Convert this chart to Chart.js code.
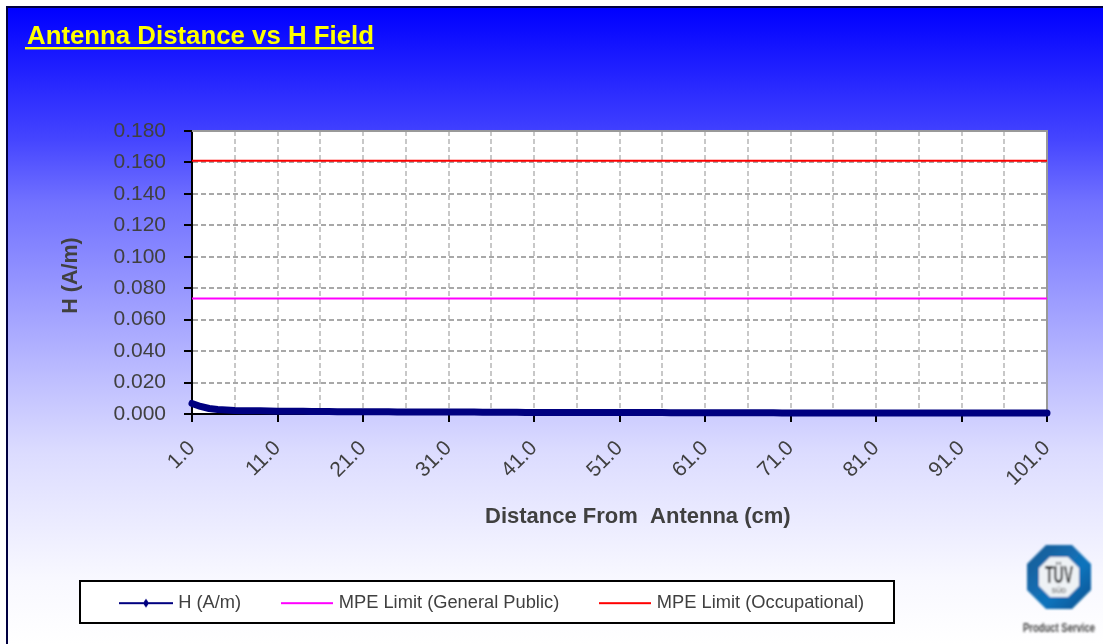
<!DOCTYPE html>
<html><head><meta charset="utf-8">
<script src="https://cdn.jsdelivr.net/npm/chart.js@4"></script>
<style>
html,body{margin:0;padding:0;background:#fff;}
#page{position:relative;width:1103px;height:644px;overflow:hidden;background:#fff;}
#bg{position:absolute;left:6px;top:6px;right:0;bottom:0;border-left:2px solid #000040;border-top:2px solid #000040;
background:linear-gradient(180deg,#0000ff 0px,#4444ff 130px,#7272ff 195px,#c0c0ff 375px,#dcdcff 445px,#f8f8ff 570px,#ffffff 636px);}
canvas#c{position:absolute;left:0;top:0;}
#logo{position:absolute;left:1015px;top:540px;}
</style></head><body>
<div id="page"><div id="bg"></div><canvas id="c" width="1103" height="644"></canvas>
<svg id="logo" width="88" height="104" viewBox="0 0 88 104">
<defs><filter id="b"><feGaussianBlur stdDeviation="0.8"/></filter>
<filter id="b2"><feGaussianBlur stdDeviation="1"/></filter>
<linearGradient id="g" x1="0" y1="0" x2="1" y2="1"><stop offset="0" stop-color="#1d5a92"/><stop offset="0.6" stop-color="#0f74bd"/><stop offset="1" stop-color="#0a4f8c"/></linearGradient></defs>
<g filter="url(#b)">
<polygon points="31,5 57,5 76,24 76,50 57,69 31,69 12,50 12,24" fill="url(#g)"/>
<polygon points="35,17 53,17 64,28 64,46 53,57 35,57 24,46 24,28" fill="#eef2f5"/>
<text x="44" y="43" font-family="Liberation Sans" font-weight="bold" font-size="23" text-anchor="middle" fill="#111" textLength="28" lengthAdjust="spacingAndGlyphs">TÜV</text>
<text x="44" y="53" font-family="Liberation Sans" font-weight="bold" font-size="7" text-anchor="middle" fill="#777">SÜD</text>
</g>
<text x="44" y="92" filter="url(#b2)" font-family="Liberation Sans" font-weight="bold" font-size="12.5" text-anchor="middle" fill="#444" textLength="72" lengthAdjust="spacingAndGlyphs">Product Service</text>
</svg>
</div>
<script>
const categories = ["1.0","2.0","3.0","4.0","5.0","6.0","7.0","8.0","9.0","10.0","11.0","12.0","13.0","14.0","15.0","16.0","17.0","18.0","19.0","20.0","21.0","22.0","23.0","24.0","25.0","26.0","27.0","28.0","29.0","30.0","31.0","32.0","33.0","34.0","35.0","36.0","37.0","38.0","39.0","40.0","41.0","42.0","43.0","44.0","45.0","46.0","47.0","48.0","49.0","50.0","51.0","52.0","53.0","54.0","55.0","56.0","57.0","58.0","59.0","60.0","61.0","62.0","63.0","64.0","65.0","66.0","67.0","68.0","69.0","70.0","71.0","72.0","73.0","74.0","75.0","76.0","77.0","78.0","79.0","80.0","81.0","82.0","83.0","84.0","85.0","86.0","87.0","88.0","89.0","90.0","91.0","92.0","93.0","94.0","95.0","96.0","97.0","98.0","99.0","100.0","101.0"];
const hField = [0.0067,0.0048,0.0035,0.0029,0.0025,0.0022,0.0021,0.0020,0.0020,0.0019,0.0018,0.0018,0.0017,0.0017,0.0016,0.0016,0.0016,0.0015,0.0015,0.0015,0.0014,0.0014,0.0014,0.0014,0.0013,0.0013,0.0013,0.0013,0.0013,0.0012,0.0012,0.0012,0.0012,0.0012,0.0011,0.0011,0.0011,0.0011,0.0011,0.0010,0.0010,0.0010,0.0010,0.0010,0.0010,0.0010,0.0010,0.0009,0.0009,0.0009,0.0009,0.0009,0.0009,0.0009,0.0009,0.0009,0.0008,0.0008,0.0008,0.0008,0.0008,0.0008,0.0008,0.0008,0.0008,0.0008,0.0008,0.0008,0.0008,0.0007,0.0007,0.0007,0.0007,0.0007,0.0007,0.0007,0.0007,0.0007,0.0007,0.0007,0.0007,0.0007,0.0006,0.0006,0.0006,0.0006,0.0006,0.0006,0.0006,0.0006,0.0006,0.0006,0.0006,0.0006,0.0006,0.0006,0.0006,0.0006,0.0006,0.0006,0.0006];
const mpePublic = categories.map(() => 0.0735);
const mpeOccupational = categories.map(() => 0.161);
const seriesNames = ["H (A/m)","MPE Limit (General Public)","MPE Limit (Occupational)"];
const FONT = "'Liberation Sans', Arial, sans-serif";

function swatch(w, color, marker){
  const cv=document.createElement('canvas'); cv.width=w; cv.height=12;
  const x=cv.getContext('2d'); x.strokeStyle=color; x.lineWidth=2;
  x.beginPath(); x.moveTo(0,6); x.lineTo(w,6); x.stroke();
  if(marker){x.fillStyle=color;x.beginPath();x.moveTo(w/2,1.5);x.lineTo(w/2+3,6);x.lineTo(w/2,10.5);x.lineTo(w/2-3,6);x.closePath();x.fill();}
  return cv;
}
const swatches=[swatch(54,'#000080',true),swatch(52,'#ff00ff',false),swatch(52,'#ff0000',false)];

const frame={id:'frame',
  afterLayout(ch){
    const l=ch.legend; l.left=80.5; l.right=1000; l.width=919.5; l.top=551.5; l.bottom=623; l.height=71.5;
  },
  beforeDraw(ch){
    const {ctx,chartArea:a}=ch;
    ctx.save();
    ctx.fillStyle='#fff'; ctx.fillRect(a.left,a.top,a.right-a.left,a.bottom-a.top);
    ctx.strokeStyle='#000'; ctx.lineWidth=2; ctx.fillRect(80,581,814,42); ctx.strokeRect(80,581,814,42);
    ctx.restore();
  },
  afterDraw(ch){
    // underline of the title
    const {ctx}=ch; const t=ch.titleBlock;
    ctx.save(); ctx.font="bold 25.8px "+FONT;
    const w=ctx.measureText(ch.options.plugins.title.text).width;
    ctx.fillStyle='#ffff00'; ctx.fillRect(t.left-2,47,w+2,2.4); ctx.restore();
  },
  beforeDatasetsDraw(ch){
    const {ctx,chartArea:a}=ch;
    ctx.save(); ctx.strokeStyle='#999'; ctx.lineWidth=2;
    ctx.beginPath(); ctx.moveTo(a.left,a.top); ctx.lineTo(a.right,a.top); ctx.lineTo(a.right,a.bottom); ctx.stroke(); ctx.restore();
  }
};

new Chart(document.getElementById('c'),{
  type:'line',
  data:{labels:categories,datasets:[
    {label:seriesNames[0],data:hField,borderColor:'#000080',backgroundColor:'#000080',borderWidth:7,borderCapStyle:'round',borderJoinStyle:'round',pointStyle:'rectRot',pointRadius:0,tension:0,clip:false,order:0},
    {label:seriesNames[1],data:mpePublic,borderColor:'#ff00ff',borderWidth:2,pointRadius:0,tension:0,order:1},
    {label:seriesNames[2],data:mpeOccupational,borderColor:'#ff0000',borderWidth:2,pointRadius:0,tension:0,order:1}
  ]},
  plugins:[frame],
  options:{
    responsive:false,animation:false,
    layout:{padding:{left:27,right:56,top:0,bottom:0}},
    plugins:{
      title:{display:true,text:'Antenna Distance vs H Field',align:'start',color:'#ffff00',
        font:{family:FONT,size:25.8,weight:'bold',lineHeight:1.2},padding:{top:21,bottom:79.04}},
      legend:{display:true,position:'bottom',align:'start',
        labels:{color:'#404040',font:{family:FONT,size:18.3},usePointStyle:true,pointStyleWidth:46,padding:42.5,
          generateLabels(ch){
            return Chart.defaults.plugins.legend.labels.generateLabels(ch).map((it,i)=>Object.assign(it,{pointStyle:swatches[i]}));
          }}},
      tooltip:{enabled:false}
    },
    scales:{
      x:{type:'category',offset:false,
        afterFit(s){s.height=230-(s.chart.legend&&s.chart.legend.height||0);},
        border:{display:true,color:'#000',width:2,dash:[5,3]},
        grid:{lineWidth:2,drawTicks:true,tickLength:8,tickBorderDash:[],
          color:c=>c.index%5===0?'#c8c8c8':'rgba(0,0,0,0)',
          tickColor:c=>c.index%10===0?'#000':'rgba(0,0,0,0)',tickWidth:2},
        ticks:{autoSkip:false,minRotation:45,maxRotation:45,color:'#404040',padding:14,font:{family:FONT,size:21},
          callback(v,i){return i%10===0?categories[i]:'';}},
        title:{display:true,text:'      Distance From  Antenna (cm)',color:'#404040',font:{family:FONT,size:22,weight:'bold'},padding:{top:43,bottom:43}}
      },
      y:{min:0,max:0.18,
        afterFit(s){s.width=165;},
        border:{display:true,color:'#000',width:2,dash:[5,3]},
        grid:{lineWidth:2,color:'#a8a8a8',tickLength:8,tickColor:'#000',tickWidth:2,tickBorderDash:[]},
        ticks:{stepSize:0.02,color:'#404040',padding:18,font:{family:FONT,size:21},callback:v=>v.toFixed(3)},
        title:{display:true,text:'H (A/m) ',color:'#404040',font:{family:FONT,size:21.5,weight:'bold'},padding:{top:31,bottom:0}}
      }
    }
  }
});
</script></body></html>
